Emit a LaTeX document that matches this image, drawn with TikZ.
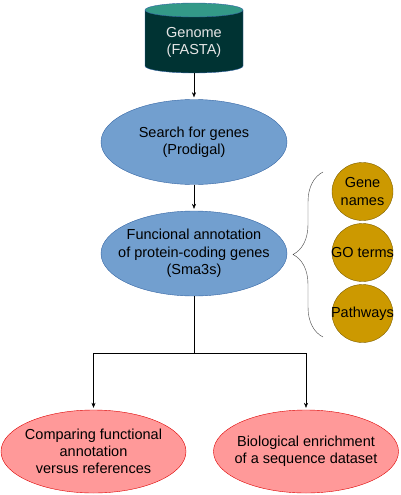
\documentclass[tikz,border=0pt]{standalone}
\usepackage{fontspec}
\setmainfont{Liberation Sans}
\usetikzlibrary{positioning,shapes,arrows.meta,calc,decorations.pathreplacing}

\definecolor{cylbody}{HTML}{003333}
\definecolor{cyltop}{HTML}{339988}
\definecolor{stepblue}{HTML}{729FCF}
\definecolor{stepline}{HTML}{3465A4}
\definecolor{gold}{HTML}{CC9900}
\definecolor{goldline}{HTML}{7F6000}
\definecolor{pinkfill}{HTML}{FF9999}
\definecolor{pinkline}{HTML}{DD0000}

\begin{document}
\begin{tikzpicture}
  [
      x=1pt, y=-1pt,
      every node/.style={font=\fontsize{14.5}{17.3}\selectfont, align=center},
      stepell/.style={ellipse, draw=stepline, fill=stepblue, minimum width=186pt, minimum height=85pt, inner xsep=-30pt, inner ysep=-15pt},
      result/.style={ellipse, draw=pinkline, fill=pinkfill, minimum width=185pt, minimum height=83pt, inner xsep=-30pt, inner ysep=-15pt},
      item/.style={ellipse, draw=goldline, fill=gold, minimum width=61pt, minimum height=58pt, inner xsep=-15pt, inner ysep=-10pt},
      link/.style={-{Stealth[length=5pt,width=4pt]}, thin},
    ]
    \useasboundingbox (0,0) rectangle (400,495);

    % genome cylinder
    \fill[cylbody, draw=stepline] (145,10) -- (145,66) arc[start angle=180, end angle=360, x radius=49, y radius=-7] -- (243,10) -- cycle;
    \fill[cyltop, draw=stepline] (194,10) ellipse[x radius=49, y radius=7];
    \node (genome) [minimum width=98pt, minimum height=70pt, inner sep=0pt, text=white!90!black] at (194,40) {\\[-2pt]Genome\\(FASTA)};
    \coordinate (gbottom) at (194,73);

    \node (search) [stepell] at (194,142) {Search for genes\\(Prodigal)};
    \node (annot) [stepell] at (194,253.5) {Funcional annotation\\of protein-coding genes\\(Sma3s)};

    \node (names) [item] at (362.5,191.5) {Gene\\names};
    \node (goterms) [item] at (362.5,252.5) {GO terms};
    \node (paths) [item] at (362.5,313.5) {Pathways};

    \node (compare) [result] at (93.5,451.5) {Comparing functional\\annotation\\versus references};
    \node (enrich) [result] at (306,451.5) {Biological enrichment\\of a sequence dataset};

    \draw [link, shorten >=2pt] (gbottom) -- (search);
    \draw [link, shorten >=2pt] (search) -- (annot);
    \coordinate (split) at (194,353);
    \draw (annot) -- (split);
    \foreach \t in {compare,enrich}
      \draw [link, shorten >=2pt] (split) -| (\t);

    % brace for the annotation outputs
    \draw [black!75, decorate, decoration={brace, amplitude=30pt}] (323,337) -- (323,172);
  \end{tikzpicture}
\end{document}
